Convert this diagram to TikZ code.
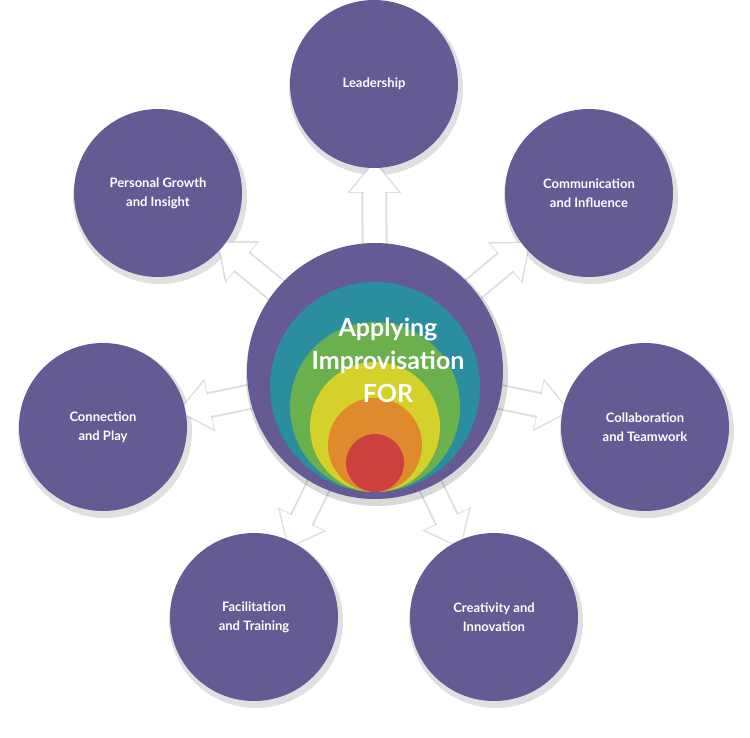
\documentclass[tikz,border=0pt]{standalone}
\usepackage{fontspec}
\setmainfont{Lato}
\usetikzlibrary{arrows.meta,calc}
\definecolor{purp}{HTML}{655A93}
\definecolor{cteal}{HTML}{2A8E9E}
\definecolor{cgreen}{HTML}{6AB04C}
\definecolor{cyel}{HTML}{D4D12A}
\definecolor{corange}{HTML}{E08A2E}
\definecolor{cred}{HTML}{CC4040}
\tikzset{
  bubble/.style={circle,fill=purp,minimum size=168pt,inner sep=0pt,text=white,font=\bfseries\fontsize{13}{19}\selectfont,align=center},
  shade/.style={circle,fill=black,opacity=0.12,minimum size=174pt,inner sep=0pt},
  bigarrow/.style={white,line width=22pt,-{Triangle[width=46pt,length=30pt]}},
  arrowshade/.style={black!25,opacity=0.5,line width=26pt,-{Triangle[width=52pt,length=33pt]}}
}
\begin{document}
\begin{tikzpicture}[x=1pt,y=-1pt]
\useasboundingbox (0,0) rectangle (750,738);
\coordinate (c) at (375,371);
\foreach \n/\x/\y in {l/374/84, cm/589/193, cl/645/427, cr/494/617, f/254/617, cn/103/427, p/158/193}{
  \node[shade] at (\x+2,\y+4) {};
  \coordinate (\n) at (\x,\y);
}
\foreach \n in {l,cm,cl,cr,f,cn,p}{
  \draw[arrowshade] (c) -- ($(\n)!76pt!(c)$);
}
\foreach \n in {l,cm,cl,cr,f,cn,p}{
  \draw[bigarrow] (c) -- ($(\n)!78pt!(c)$);
}
\node[bubble] (nl) at (l) {Leadership};
\node[bubble] (ncm) at (cm) {Communication\\and Influence};
\node[bubble] (ncl) at (cl) {Collaboration\\and Teamwork};
\node[bubble] (ncr) at (cr) {Creativity and\\Innovation};
\node[bubble] (nf) at (f) {Facilitation\\and Training};
\node[bubble] (ncn) at (cn) {Connection\\and Play};
\node[bubble] (np) at (p) {Personal Growth\\and Insight};
\node[circle,fill=black,opacity=0.15,minimum size=262pt] at (377,375) {};
\node[circle,fill=purp,minimum size=256pt,inner sep=0pt] (center) at (c) {};
\fill[cteal] (375,387) circle (105);
\fill[cgreen] (375,407) circle (85);
\fill[cyel] (375,427) circle (65);
\fill[corange] (375,445) circle (47);
\fill[cred] (375,463) circle (29);
\node[text=white,font=\bfseries\fontsize{25}{33}\selectfont,align=center] (t) at (388,360) {Applying\\Improvisation\\FOR};
\end{tikzpicture}
\end{document}
